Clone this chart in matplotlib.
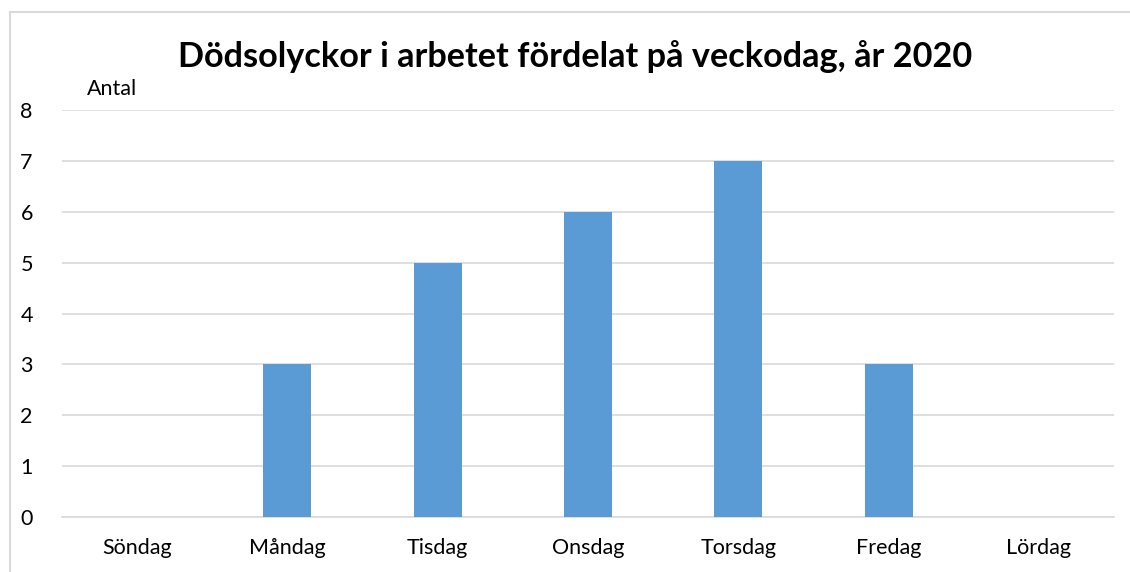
import matplotlib
matplotlib.use("Agg")
import matplotlib.pyplot as plt
from matplotlib.lines import Line2D

days = ["Söndag", "Måndag", "Tisdag", "Onsdag", "Torsdag", "Fredag", "Lördag"]
counts = [0, 3, 5, 6, 7, 3, 0]
yticks = [0, 1, 2, 3, 4, 5, 6, 7, 8]

plt.rcParams['font.family'] = ['Lato', 'DejaVu Sans']

fig = plt.figure(figsize=(11.3, 5.72), dpi=100)
fig.patch.set_facecolor('white')
# outer chart border (only left and top edges visible)
bx, by = 10/1130, 1 - 12/572
fig.add_artist(Line2D([bx, bx], [0, by], transform=fig.transFigure,
                      color='#D9D9D9', linewidth=1.5))
fig.add_artist(Line2D([bx, 1], [by, by], transform=fig.transFigure,
                      color='#D9D9D9', linewidth=1.5))

ax = fig.add_axes([62/1130, 1-517/572, (1114-62)/1130, (517-110)/572])
x = list(range(len(days)))
ax.bar(x, counts, width=0.32, color='#5B9BD5', zorder=3)
ax.set_xlim(-0.5, len(days)-0.5)
ax.set_ylim(0, 8)
ax.set_yticks(yticks)
ax.set_xticks(x)
ax.set_xticklabels(days)
ax.yaxis.grid(True, color='#D9D9D9', linewidth=1.2, zorder=0)
for s in ['top', 'right', 'left']:
    ax.spines[s].set_visible(False)
ax.spines['bottom'].set_color('#D9D9D9')
ax.spines['bottom'].set_linewidth(1.2)
ax.tick_params(axis='both', length=0, labelsize=15.5, colors='#000000')
ax.tick_params(axis='y', pad=21)
ax.tick_params(axis='x', pad=15)

fig.text(575/1130, 1-57/572, "Dödsolyckor i arbetet fördelat på veckodag, år 2020",
         ha='center', va='center', fontsize=24.7, fontweight='bold')
fig.text(87/1130, 1-89/572, "Antal", ha='left', va='center', fontsize=15.5)

fig.savefig("out.png", dpi=100, facecolor='white')
